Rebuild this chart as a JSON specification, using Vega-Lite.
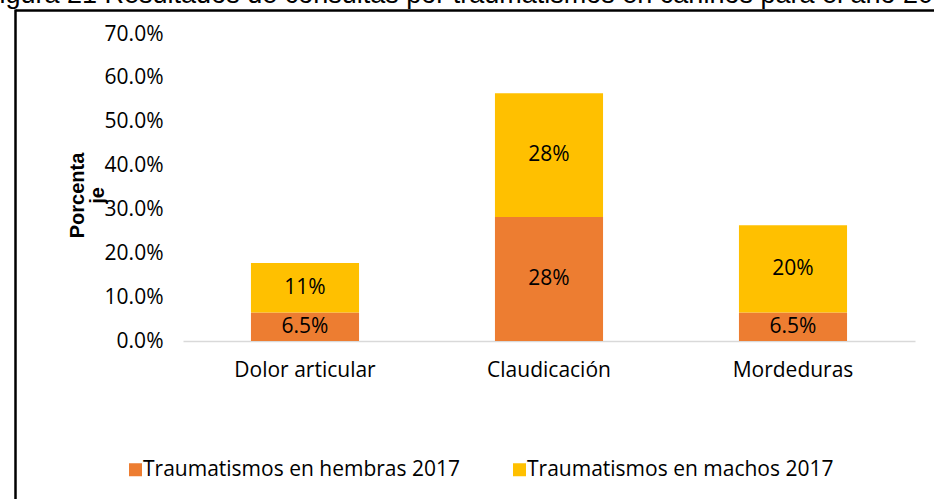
{
  "$schema": "https://vega.github.io/schema/vega-lite/v6.json",
  "width": 732,
  "height": 307,
  "autosize": "none",
  "padding": {"left": 183, "top": 34, "right": 19, "bottom": 158},
  "background": "white",
  "title": {
    "text": "Figura 21 Resultados de consultas por traumatismos en caninos para el año 2017",
    "anchor": "start",
    "frame": "group",
    "dx": -200,
    "dy": 23,
    "font": "Liberation Sans",
    "fontSize": 27,
    "fontWeight": "normal",
    "color": "black",
    "baseline": "alphabetic",
    "offset": 3
  },
  "data": {
    "values": [
      {"categoria": "Dolor articular", "serie": "Traumatismos en hembras 2017", "orden": 1, "valor": 0.065},
      {"categoria": "Dolor articular", "serie": "Traumatismos en machos 2017", "orden": 2, "valor": 0.113},
      {"categoria": "Claudicación", "serie": "Traumatismos en hembras 2017", "orden": 1, "valor": 0.283},
      {"categoria": "Claudicación", "serie": "Traumatismos en machos 2017", "orden": 2, "valor": 0.282},
      {"categoria": "Mordeduras", "serie": "Traumatismos en hembras 2017", "orden": 1, "valor": 0.065},
      {"categoria": "Mordeduras", "serie": "Traumatismos en machos 2017", "orden": 2, "valor": 0.199}
    ]
  },
  "layer": [
    {
      "encoding": {
        "x": {
          "field": "categoria",
          "type": "nominal",
          "sort": ["Dolor articular", "Claudicación", "Mordeduras"],
          "scale": {"paddingInner": 0.557, "paddingOuter": 0.2785},
          "axis": {
            "title": null,
            "labelAngle": 0,
            "ticks": false,
            "domainColor": "#d9d9d9",
            "domainWidth": 1.5,
            "labelPadding": 18,
            "labelFont": "Open Sans",
            "labelFontSize": 21,
            "labelColor": "black"
          }
        },
        "y": {
          "field": "valor",
          "type": "quantitative",
          "stack": "zero",
          "scale": {"domain": [0, 0.7]},
          "axis": {
            "title": ["Porcenta", "je"],
            "titleFont": "Liberation Sans",
            "titleFontSize": 20,
            "titleFontWeight": "bold",
            "titleColor": "black",
            "titleX": -96,
            "titleY": 161,
            "titleLineHeight": 20,
            "format": ".1%",
            "values": [0, 0.1, 0.2, 0.3, 0.4, 0.5, 0.6, 0.7],
            "labelOverlap": false,
            "grid": false,
            "domain": false,
            "ticks": false,
            "labelPadding": 20,
            "labelFont": "Open Sans",
            "labelFontSize": 21,
            "labelColor": "black"
          }
        },
        "order": {"field": "orden", "type": "quantitative"}
      },
      "layer": [
        {
          "mark": {"type": "bar"},
          "encoding": {
            "color": {
              "field": "serie",
              "type": "nominal",
              "scale": {
                "domain": ["Traumatismos en hembras 2017", "Traumatismos en machos 2017"],
                "range": ["#ED7D31", "#FFC000"]
              },
              "legend": {
                "title": null,
                "orient": "none",
                "direction": "horizontal",
                "legendX": -58,
                "legendY": 425,
                "symbolType": "square",
                "symbolSize": 169,
                "symbolStrokeWidth": 0,
                "labelOffset": -3,
                "labelLimit": 0,
                "columnPadding": 49,
                "labelFont": "Open Sans",
                "labelFontSize": 21,
                "labelColor": "black"
              }
            }
          }
        },
        {
          "mark": {"type": "text", "font": "Open Sans", "fontSize": 21, "color": "black"},
          "encoding": {
            "y": {"field": "valor", "type": "quantitative", "stack": "zero", "bandPosition": 0.5},
            "text": {"field": "valor", "type": "quantitative", "format": ".2~p"}
          }
        }
      ]
    },
    {
      "mark": {"type": "point", "opacity": 0},
      "encoding": {
        "x": {
          "datum": 0,
          "type": "quantitative",
          "scale": {"domain": [0, 1], "range": [-168, 760]},
          "axis": {"orient": "top", "offset": 24, "title": null, "labels": false, "ticks": false, "grid": false, "domainColor": "black", "domainWidth": 2.5}
        },
        "y": {
          "datum": 0,
          "type": "quantitative",
          "scale": {"domain": [0, 1], "range": [480, -25]},
          "axis": {"orient": "left", "offset": 168, "title": null, "labels": false, "ticks": false, "grid": false, "domainColor": "black", "domainWidth": 2.5}
        }
      }
    }
  ],
  "resolve": {"scale": {"x": "independent", "y": "independent"}, "axis": {"x": "independent", "y": "independent"}},
  "config": {"view": {"stroke": null}}
}
